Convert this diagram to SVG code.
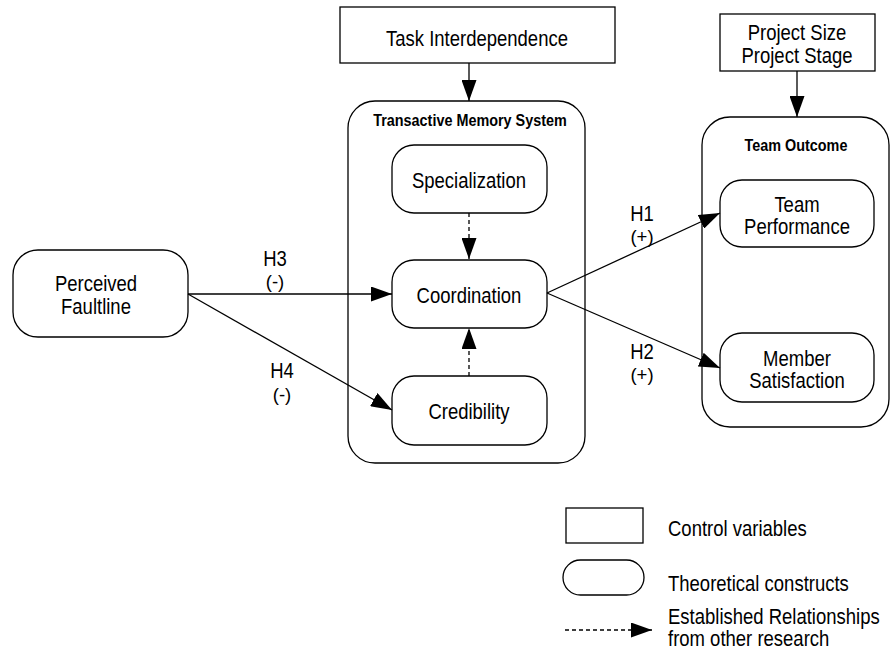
<svg xmlns="http://www.w3.org/2000/svg" width="891" height="653" viewBox="0 0 891 653">
<style>
.box{fill:#fff;stroke:#000;stroke-width:1.3}
.ln{fill:none;stroke:#000;stroke-width:1.3}
.dash{stroke-dasharray:4,3}
text{font-family:"Liberation Sans",Arial,sans-serif;font-size:18.5px;fill:#000;text-anchor:middle;transform-box:fill-box;transform-origin:50% 50%;transform:scale(1,1.15)}
.t{font-weight:bold;font-size:14.4px}
.lg{text-anchor:start}
.p{transform:none}
</style>
<defs>
<marker id="ah" markerUnits="userSpaceOnUse" markerWidth="21" markerHeight="15" refX="21" refY="7.5" orient="auto">
<path d="M0,0 L21,7.5 L0,15 z" fill="#000"/>
</marker>
</defs>
<rect width="891" height="653" fill="#fff"/>
<g id="task">
<rect class="box" x="340" y="7" width="275" height="56"/>
<text x="477" y="45">Task Interdependence</text>
</g>
<g id="project">
<rect class="box" x="720" y="14" width="155" height="57"/>
<text x="797" y="39">Project Size</text>
<text x="797" y="62">Project Stage</text>
</g>
<g id="tms">
<rect class="box" x="348" y="101" width="237" height="362" rx="27"/>
<text class="t" x="470" y="125">Transactive Memory System</text>
</g>
<g id="outcome">
<rect class="box" x="702" y="117" width="187" height="310" rx="28"/>
<text class="t" x="796" y="150">Team Outcome</text>
</g>
<g id="specialization">
<rect class="box" x="392" y="145" width="155" height="68" rx="22"/>
<text x="469" y="187">Specialization</text>
</g>
<g id="coordination">
<rect class="box" x="392" y="260" width="155" height="68" rx="22"/>
<text x="469" y="302">Coordination</text>
</g>
<g id="credibility">
<rect class="box" x="392" y="376" width="155" height="69" rx="22"/>
<text x="469" y="418">Credibility</text>
</g>
<g id="faultline">
<rect class="box" x="13" y="250" width="175" height="87" rx="25"/>
<text x="96" y="290">Perceived</text>
<text x="96" y="313">Faultline</text>
</g>
<g id="performance">
<rect class="box" x="720" y="180" width="154" height="67" rx="22"/>
<text x="797" y="211">Team</text>
<text x="797" y="233">Performance</text>
</g>
<g id="satisfaction">
<rect class="box" x="720" y="333" width="154" height="69" rx="22"/>
<text x="797" y="365">Member</text>
<text x="797" y="387">Satisfaction</text>
</g>
<g id="connectors">
<line class="ln" x1="469" y1="63" x2="469" y2="101" marker-end="url(#ah)"/>
<line class="ln" x1="797" y1="71" x2="797" y2="117" marker-end="url(#ah)"/>
<line class="ln dash" x1="469" y1="213" x2="469" y2="259" marker-end="url(#ah)"/>
<line class="ln dash" x1="469" y1="376" x2="469" y2="328" marker-end="url(#ah)"/>
<line class="ln" x1="188" y1="294" x2="392" y2="294" marker-end="url(#ah)"/>
<line class="ln" x1="188" y1="294" x2="392" y2="410" marker-end="url(#ah)"/>
<line class="ln" x1="547" y1="293" x2="720" y2="213" marker-end="url(#ah)"/>
<line class="ln" x1="547" y1="293" x2="720" y2="368" marker-end="url(#ah)"/>
<text x="275" y="265">H3</text>
<text class="p" x="275" y="288">(-)</text>
<text x="282" y="377">H4</text>
<text class="p" x="282" y="401">(-)</text>
<text x="642" y="220">H1</text>
<text class="p" x="642" y="243">(+)</text>
<text x="642" y="358">H2</text>
<text class="p" x="642" y="381">(+)</text>
</g>
<g id="legend">
<rect class="box" x="566" y="508" width="77" height="35"/>
<text class="lg" x="668" y="535">Control variables</text>
<rect class="box" x="563" y="560" width="81" height="35" rx="17.5"/>
<text class="lg" x="668" y="590">Theoretical constructs</text>
<line class="ln dash" x1="565" y1="630" x2="652" y2="630" marker-end="url(#ah)"/>
<text class="lg" x="668" y="623">Established Relationships</text>
<text class="lg" x="668" y="645">from other research</text>
</g>
</svg>
